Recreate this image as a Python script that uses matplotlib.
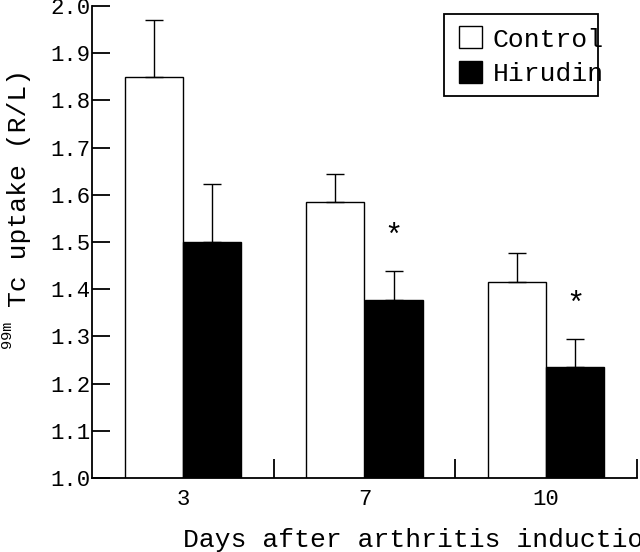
import matplotlib
matplotlib.use("Agg")
import matplotlib.pyplot as plt
from matplotlib.patches import Rectangle
import numpy as np

days = ["3", "7", "10"]
control = [1.85, 1.585, 1.415]
control_err = [0.12, 0.06, 0.061]
hirudin = [1.50, 1.377, 1.235]
hirudin_err = [0.122, 0.062, 0.06]
significant = [False, True, True]

FONT = "Liberation Mono"
W, H = 640, 552
fig = plt.figure(figsize=(W / 100, H / 100), dpi=100)
ax = fig.add_axes([92 / W, 1 - 478 / H, (637 - 92) / W, (478 - 6) / H])

x = np.arange(len(days))
bw = 0.32
ax.bar(x - bw / 2, control, bw, bottom=0, color="white", edgecolor="black", linewidth=1.0, zorder=2)
ax.bar(x + bw / 2, hirudin, bw, bottom=0, color="black", edgecolor="black", linewidth=1.0, zorder=2)
ax.errorbar(x - bw / 2, control, yerr=[np.zeros(3), control_err], fmt="none",
            ecolor="black", elinewidth=1.0, capsize=6.8, capthick=1.0, zorder=3)
ax.errorbar(x + bw / 2, hirudin, yerr=[np.zeros(3), hirudin_err], fmt="none",
            ecolor="black", elinewidth=1.0, capsize=6.8, capthick=1.0, zorder=3)

for i, s in enumerate(significant):
    if s:
        ax.text(x[i] + bw / 2, hirudin[i] + hirudin_err[i] + 0.072, "*",
                ha="center", va="center", fontsize=22, family=FONT)

ax.set_xlim(-0.5, 2.5)
ax.set_ylim(1.0, 2.0)
ax.spines["top"].set_visible(False)
ax.spines["right"].set_visible(False)
for sp in ["left", "bottom"]:
    ax.spines[sp].set_linewidth(1.3)

yt = np.round(np.arange(1.0, 2.01, 0.1), 1)
ax.set_yticks(yt)
ax.set_yticklabels([f"{v:.1f}" for v in yt], family=FONT, fontsize=16)
ax.tick_params(axis="y", direction="in", length=13, width=1.3, pad=1)

ax.set_xticks([0.5, 1.5, 2.5])
ax.set_xticklabels([])
ax.tick_params(axis="x", which="major", direction="in", length=14, width=1.3)
ax.set_xticks(x, minor=True)
ax.set_xticklabels(days, minor=True, family=FONT, fontsize=16)
ax.tick_params(axis="x", which="minor", length=0, pad=8)

# axis labels
fig.text(183 / W, 1 - 540 / H, "Days after arthritis induction", family=FONT,
         fontsize=19, ha="left", va="center")
fig.text(19 / W, 1 - 188 / H, "Tc uptake (R/L)", family=FONT, fontsize=19,
         rotation=90, ha="center", va="center")
fig.text(7 / W, 1 - 334 / H, "99m", family=FONT, fontsize=11,
         rotation=90, ha="center", va="center")

# legend
def px(xp, yp):
    return xp / W, 1 - yp / H

fig.patches.append(Rectangle(px(444, 96), (598 - 444) / W, (96 - 14) / H,
                             transform=fig.transFigure, facecolor="none",
                             edgecolor="black", linewidth=1.3))
fig.patches.append(Rectangle(px(459, 48), 23 / W, 22 / H, transform=fig.transFigure,
                             facecolor="white", edgecolor="black", linewidth=1.0))
fig.patches.append(Rectangle(px(459, 83), 23 / W, 22 / H, transform=fig.transFigure,
                             facecolor="black", edgecolor="black", linewidth=1.0))
fig.text(*px(493, 40), "Control", family=FONT, fontsize=19, ha="left", va="center")
fig.text(*px(493, 74), "Hirudin", family=FONT, fontsize=19, ha="left", va="center")

fig.savefig("out.png", dpi=100)
